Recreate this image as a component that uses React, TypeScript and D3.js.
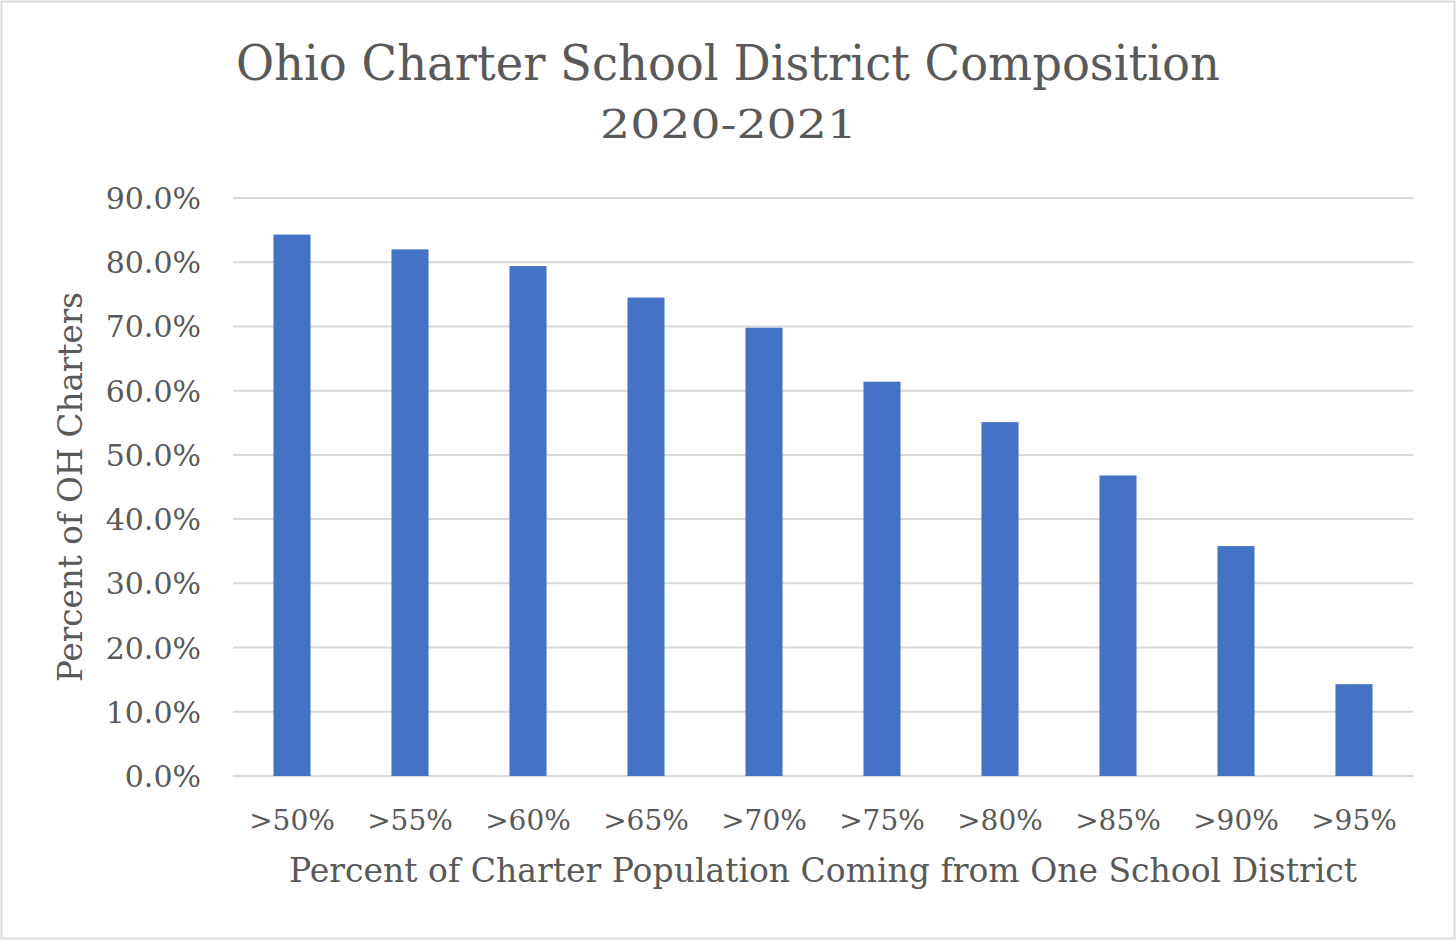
import React from "react";
import * as d3 from "d3";

const categories = [">50%", ">55%", ">60%", ">65%", ">70%", ">75%", ">80%", ">85%", ">90%", ">95%"];
const values = [0.843, 0.82, 0.794, 0.745, 0.698, 0.614, 0.551, 0.468, 0.358, 0.143];
const yTicks = [0, 0.1, 0.2, 0.3, 0.4, 0.5, 0.6, 0.7, 0.8, 0.9];
const titleText = "Ohio Charter School District Composition";
const subtitleText = "2020-2021";
const xTitle = "Percent of Charter Population Coming from One School District";
const yTitle = "Percent of OH Charters";

const W = 1456;
const H = 940;
const plot = { left: 233, right: 1413, top: 198, bottom: 776 };
const FONT = "'DejaVu Serif', 'Liberation Serif', serif";
const TEXT = "#595959";

export default function App() {
  const x = d3
    .scaleBand<string>()
    .domain(categories)
    .range([plot.left, plot.right])
    .paddingInner(0.686)
    .paddingOuter(0.343);
  const y = d3.scaleLinear().domain([0, 0.9]).range([plot.bottom, plot.top]);
  const fmt = d3.format(".1%");

  return (
    <svg
      width={W}
      height={H}
      style={{ position: "absolute", left: 0, top: 0, background: "#fff" }}
      fontFamily={FONT}
    >
      <rect x={0} y={0} width={W} height={H} fill="#fff" />
      <rect x={1.5} y={1.5} width={W - 3} height={H - 3} fill="none" stroke="#d9d9d9" strokeWidth={2} />

      <text
        x={728}
        y={80}
        textAnchor="middle"
        fontSize={48}
        fill={TEXT}
        textLength={984}
        lengthAdjust="spacingAndGlyphs"
      >
        {titleText}
      </text>
      <text
        x={728.5}
        y={138}
        textAnchor="middle"
        fontSize={40}
        fill={TEXT}
        textLength={257}
        lengthAdjust="spacingAndGlyphs"
      >
        {subtitleText}
      </text>

      {yTicks.map((t) => (
        <g key={t}>
          <line
            x1={plot.left}
            x2={plot.right}
            y1={y(t)}
            y2={y(t)}
            stroke="#d9d9d9"
            strokeWidth={2}
          />
          <text x={201} y={y(t) + 11} textAnchor="end" fontSize={30} fill={TEXT}>
            {fmt(t)}
          </text>
        </g>
      ))}

      {categories.map((c, i) => (
        <rect
          key={c}
          x={x(c)}
          y={y(values[i])}
          width={x.bandwidth()}
          height={y(0) - y(values[i])}
          fill="#4472C4"
        />
      ))}

      {categories.map((c) => (
        <text
          key={c}
          x={(x(c) as number) + x.bandwidth() / 2}
          y={830}
          textAnchor="middle"
          fontSize={28}
          fill={TEXT}
        >
          {c}
        </text>
      ))}

      <text
        x={(plot.left + plot.right) / 2}
        y={882}
        textAnchor="middle"
        fontSize={34}
        fill={TEXT}
        textLength={1068}
        lengthAdjust="spacingAndGlyphs"
      >
        {xTitle}
      </text>
      <text
        transform={`translate(82, ${(plot.top + plot.bottom) / 2}) rotate(-90)`}
        textAnchor="middle"
        fontSize={34}
        fill={TEXT}
        textLength={390}
        lengthAdjust="spacingAndGlyphs"
      >
        {yTitle}
      </text>
    </svg>
  );
}
